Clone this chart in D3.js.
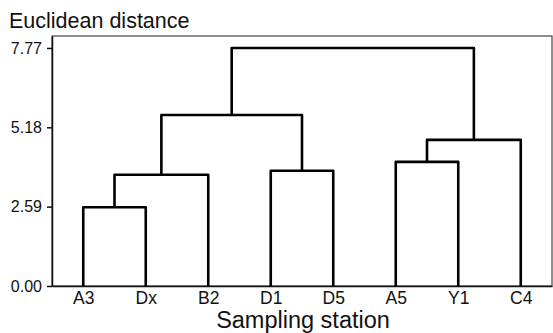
<!DOCTYPE html>
<html>
<head>
<meta charset="utf-8">
<script src="https://cdn.jsdelivr.net/npm/d3@7"></script>
<style>
	body { margin: 0; background: #fff; }
	text { font-family: "Liberation Sans", Arial, sans-serif; fill: #111; }
</style>
</head>
<body>
<div id="chart"></div>
<script>
	// leaves in display order
	const leaves = ["A3", "Dx", "B2", "D1", "D5", "A5", "Y1", "C4"];

	// merges: node m1..m7 joins mergeA[i] with mergeB[i] at mergeHeights[i]
	const mergeA = ["A3", "m1", "D1", "m2", "A5", "m5", "m4"];
	const mergeB = ["Dx", "B2", "D5", "m3", "Y1", "C4", "m6"];
	const mergeHeights = [2.57, 3.63, 3.76, 5.58, 4.05, 4.77, 7.77];

	const yTicks = [0, 2.59, 5.18, 7.77];

	const w = 553;
	const h = 333;
	const padL = 52, padR = 552, padT = 36, padB = 286;

	const xScale = d3.scalePoint()
		.domain(leaves)
		.range([padL, padR])
		.padding(0.5);

	const yScale = d3.scaleLinear()
		.domain([0, 8.16])
		.range([padB, padT]);

	const svg = d3.select("#chart")
		.append("svg")
		.attr("width", w)
		.attr("height", h);

	// frame
	svg.append("rect")
		.attr("x", padL)
		.attr("y", padT)
		.attr("width", padR - padL)
		.attr("height", padB - padT)
		.attr("fill", "none")
		.attr("stroke", "#444")
		.attr("stroke-width", 1.2);

	// node positions
	const pos = {};
	leaves.forEach(d => pos[d] = { x: xScale(d), y: 0 });
	mergeHeights.forEach((hgt, i) => {
		const a = pos[mergeA[i]], b = pos[mergeB[i]];
		pos["m" + (i + 1)] = { x: (a.x + b.x) / 2, y: hgt };
	});

	const links = mergeHeights.map((hgt, i) => ({
		a: pos[mergeA[i]], b: pos[mergeB[i]], h: hgt
	}));

	svg.append("g")
		.selectAll("path")
		.data(links)
		.enter()
		.append("path")
		.attr("d", d => `M${d.a.x},${yScale(d.a.y)}V${yScale(d.h)}H${d.b.x}V${yScale(d.b.y)}`)
		.attr("fill", "none")
		.attr("stroke", "#000")
		.attr("stroke-width", 2.6)
		.attr("stroke-linejoin", "round");

	// axes
	const yAxis = d3.axisLeft(yScale)
		.tickValues(yTicks)
		.tickFormat(d3.format(".2f"))
		.tickSize(5)
		.tickPadding(5)
		.tickSizeOuter(0);

	const gy = svg.append("g")
		.attr("transform", `translate(${padL},0)`)
		.call(yAxis);
	gy.select(".domain").attr("stroke", "#111").attr("stroke-width", 1.5);
	gy.selectAll(".tick line").attr("stroke", "#111").attr("stroke-width", 1.5);
	gy.selectAll("text").style("font-size", "16px");

	const xAxis = d3.axisBottom(xScale)
		.tickSize(0)
		.tickPadding(6)
		.tickSizeOuter(0);

	const gx = svg.append("g")
		.attr("transform", `translate(0,${padB})`)
		.call(xAxis);
	gx.select(".domain").attr("stroke", "#111").attr("stroke-width", 1.5);
	gx.selectAll("text").style("font-size", "17.5px");

	svg.append("text")
		.text("Euclidean distance")
		.attr("x", 9)
		.attr("y", 28)
		.style("font-size", "21.5px");

	svg.append("text")
		.text("Sampling station")
		.attr("x", 303)
		.attr("y", 327.5)
		.style("text-anchor", "middle")
		.style("font-size", "23.5px");
</script>
</body>
</html>
